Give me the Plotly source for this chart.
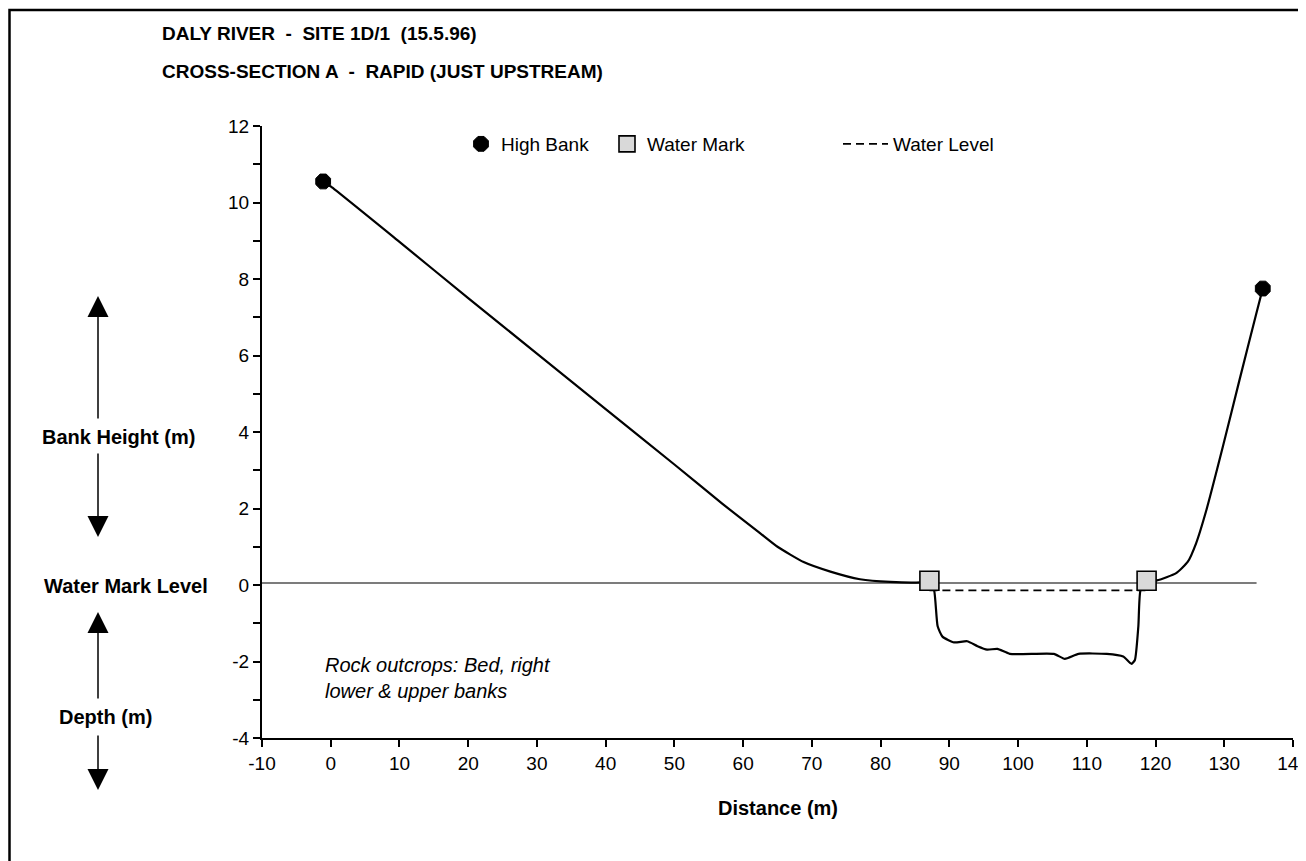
import plotly.graph_objects as go

# cross-section profile (distance m, height m relative to water mark)
dist = [-1.1, 0, 10, 20, 30, 40, 50, 57, 62.5, 65, 68.8, 72.7, 77, 81.4, 85.8, 87.1,
        87.8, 88.3, 89.0, 90.7, 92.6, 94.1, 95.5, 97.0, 98.8, 105.2, 106.8, 108.8,
        112.9, 115.3, 116.5, 117.0, 117.5, 117.8, 118.7, 120.2, 123.0, 124.7, 125.9,
        127.4, 129.8, 132.2, 134.6, 135.6]
height = [10.55, 10.42, 8.97, 7.5, 6.05, 4.6, 3.15, 2.12, 1.35, 1.0, 0.6, 0.35, 0.15,
          0.08, 0.07, 0.1, -0.15, -1.08, -1.35, -1.5, -1.47, -1.6, -1.69, -1.67, -1.8,
          -1.8, -1.93, -1.8, -1.8, -1.87, -2.06, -1.96, -1.08, -0.15, 0.1, 0.12, 0.31,
          0.61, 1.09, 1.96, 3.62, 5.35, 7.05, 7.75]

bank_x = [-1.1, 135.6]
bank_y = [10.55, 7.75]
mark_x = [87.1, 118.7]
mark_y = [0.11, 0.11]
level_x = [87.1, 118.7]
level_y = [-0.14, -0.14]
zero_x = [-10, 134.7]
zero_y = [0.05, 0.05]

x_ticks = [-10, 0, 10, 20, 30, 40, 50, 60, 70, 80, 90, 100, 110, 120, 130, 140]
x_labels = ["-10", "0", "10", "20", "30", "40", "50", "60", "70", "80", "90",
            "100", "110", "120", "130", "140"]
y_ticks = [-4, -2, 0, 2, 4, 6, 8, 10, 12]
y_labels = ["-4", "-2", "0", "2", "4", "6", "8", "10", "12"]

FONT = "Arial, Liberation Sans, sans-serif"

fig = go.Figure()
fig.add_trace(go.Scatter(x=zero_x, y=zero_y, mode="lines", showlegend=False,
                         line=dict(color="#505050", width=1.5)))
fig.add_trace(go.Scatter(x=dist, y=height, mode="lines", showlegend=False,
                         line=dict(color="black", width=2.2, shape="spline", smoothing=0.5)))
fig.add_trace(go.Scatter(x=level_x, y=level_y, mode="lines", name="Water Level",
                         legend="legend3",
                         line=dict(color="black", width=1.6, dash="8px,5px")))
fig.add_trace(go.Scatter(x=mark_x, y=mark_y, mode="markers", name="Water Mark",
                         legend="legend2",
                         marker=dict(symbol="square", size=19, color="#d9d9d9",
                                     line=dict(color="black", width=1.6))))
fig.add_trace(go.Scatter(x=bank_x, y=bank_y, mode="markers", name="High Bank",
                         legend="legend",
                         marker=dict(symbol="octagon", size=16, color="black",
                                     line=dict(color="black", width=1))))

# screen pixel -> paper helpers for decorations in the margin
def py(p):
    return (738 - p) / 612

def px(p):
    return (p - 262) / 1031

ann = []
ann.append(dict(text="<b>DALY RIVER  -  SITE 1D/1  (15.5.96)</b>", x=px(160), y=py(33),
                xanchor="left", yanchor="middle", font=dict(size=19)))
ann.append(dict(text="<b>CROSS-SECTION A  -  RAPID (JUST UPSTREAM)</b>", x=px(160), y=py(71),
                xanchor="left", yanchor="middle", font=dict(size=19)))
ann.append(dict(text="<b>Bank Height (m)</b>", x=px(118), y=py(437),
                xanchor="center", yanchor="middle", font=dict(size=20)))
ann.append(dict(text="<b>Water Mark Level</b>", x=px(126), y=py(586),
                xanchor="center", yanchor="middle", font=dict(size=20)))
ann.append(dict(text="<b>Depth (m)</b>", x=px(105), y=py(717),
                xanchor="center", yanchor="middle", font=dict(size=20)))
ann.append(dict(text="<b>Distance (m)</b>", x=0.5, y=py(808),
                xanchor="center", yanchor="middle", font=dict(size=20)))
for tip, tail in [(296, 420), (537, 452), (612, 700), (790, 734)]:
    ann.append(dict(text="", x=px(98), y=py(tip), ax=0, ay=tail - tip,
                    showarrow=True, arrowhead=2, arrowsize=2.8, arrowwidth=1.5,
                    arrowcolor="black"))
for a in ann:
    a.setdefault("xref", "paper")
    a.setdefault("yref", "paper")
    a.setdefault("showarrow", False)

fig.update_layout(
    annotations=ann + [dict(text="<i>Rock outcrops: Bed, right<br>lower & upper banks</i>",
                            x=-1.1, y=-2.42, xref="x", yref="y", xanchor="left",
                            yanchor="middle", align="left", showarrow=False,
                            font=dict(size=20))],
    shapes=[dict(type="rect", xref="paper", yref="paper", x0=px(9.5), x1=1.2,
                 y0=-0.5, y1=py(10), line=dict(color="black", width=2.5))],
    width=1306, height=861,
    margin=dict(l=254, r=21, t=118, b=131, autoexpand=False),
    paper_bgcolor="white", plot_bgcolor="white",
    font=dict(family=FONT, size=19, color="black"),
    xaxis=dict(range=[-10, 140], tickvals=x_ticks, ticktext=x_labels,
               showgrid=False, zeroline=False,
               showline=True, linecolor="black", linewidth=2, ticks="outside",
               ticklen=7, tickwidth=2, tickcolor="black", automargin=False,
               tickfont=dict(size=19)),
    yaxis=dict(range=[-4, 12], tickvals=y_ticks, ticktext=y_labels,
               showgrid=False, zeroline=False,
               showline=True, linecolor="black", linewidth=2, ticks="outside",
               ticklen=7, tickwidth=2, tickcolor="black", automargin=False,
               tickfont=dict(size=19),
               minor=dict(dtick=1, tick0=0, ticks="outside", ticklen=7, tickwidth=2,
                          tickcolor="black", showgrid=False)),
    legend=dict(x=px(461), y=py(144), xanchor="left", yanchor="middle",
                bgcolor="rgba(0,0,0,0)", font=dict(size=19)),
    legend2=dict(x=px(607), y=py(144), xanchor="left", yanchor="middle",
                 bgcolor="rgba(0,0,0,0)", font=dict(size=19)),
    legend3=dict(x=px(838), y=py(144), xanchor="left", yanchor="middle",
                 itemwidth=45, bgcolor="rgba(0,0,0,0)", font=dict(size=19)),
)

fig.write_html("out.html")
